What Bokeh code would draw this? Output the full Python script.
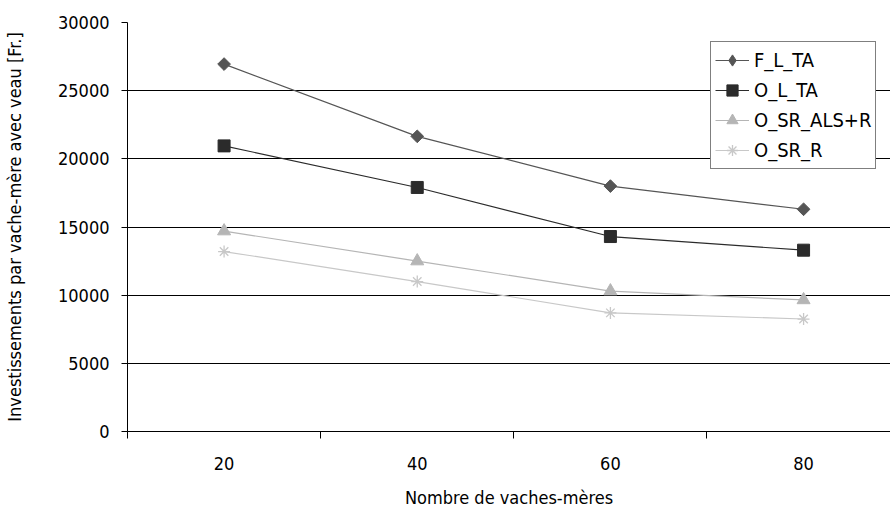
import math
from bokeh.plotting import figure
from bokeh.models import Range1d, FixedTicker, Legend, LegendItem
from bokeh.embed import file_html
from bokeh.resources import INLINE

categories = ["20", "40", "60", "80"]
series_names = ["F_L_TA", "O_L_TA", "O_SR_ALS+R", "O_SR_R"]
f_l_ta = [26950, 21650, 18000, 16300]
o_l_ta = [20950, 17900, 14300, 13300]
o_sr_als_r = [14700, 12500, 10300, 9650]
o_sr_r = [13200, 11000, 8700, 8250]
y_ticks = [0, 5000, 10000, 15000, 20000, 25000, 30000]

FONT = "DejaVu Sans Condensed"
xs = [i + 0.5 for i in range(len(categories))]

p = figure(width=890, height=511, output_backend="svg", toolbar_location=None,
           x_range=Range1d(0, 3.95), y_range=Range1d(0, 30000),
           min_border_left=125, min_border_right=0, min_border_top=22, min_border_bottom=80)
p.outline_line_color = None
p.background_fill_color = "white"
p.border_fill_color = "white"

# grid
p.xgrid.grid_line_color = None
p.ygrid.grid_line_color = "black"
p.ygrid.grid_line_width = 1
p.ygrid.ticker = FixedTicker(ticks=y_ticks)

# y axis
p.yaxis.ticker = FixedTicker(ticks=y_ticks)
p.yaxis.axis_label = "Investissements par vache-mère avec veau [Fr.]"
p.yaxis.major_tick_out = 6
p.yaxis.major_tick_in = 0
p.yaxis.minor_tick_out = 0
p.yaxis.minor_tick_in = 0
p.yaxis.axis_line_color = "black"
p.yaxis.major_label_text_font = FONT
p.yaxis.major_label_text_font_size = "18px"
p.yaxis.major_label_text_color = "black"
p.yaxis.axis_label_text_font = FONT
p.yaxis.axis_label_text_font_size = "18px"
p.yaxis.axis_label_text_font_style = "normal"
p.yaxis.axis_label_text_color = "black"
p.yaxis.major_label_standoff = 12
p.yaxis.axis_label_standoff = 30

# x axis: labels at category centres, ticks at category boundaries
p.xaxis.ticker = FixedTicker(ticks=xs, minor_ticks=[0, 1, 2, 3])
p.xaxis.major_label_overrides = {x: c for x, c in zip(xs, categories)}
p.xaxis.axis_label = "Nombre de vaches-mères"
p.xaxis.major_tick_out = 0
p.xaxis.major_tick_in = 0
p.xaxis.minor_tick_out = 7
p.xaxis.minor_tick_in = 0
p.xaxis.minor_tick_line_color = "black"
p.xaxis.axis_line_color = "black"
p.xaxis.major_label_text_font = FONT
p.xaxis.major_label_text_font_size = "18px"
p.xaxis.major_label_text_color = "black"
p.xaxis.major_label_standoff = 18
p.xaxis.axis_label_text_font = FONT
p.xaxis.axis_label_text_font_size = "18px"
p.xaxis.axis_label_text_font_style = "normal"
p.xaxis.axis_label_text_color = "black"
p.xaxis.axis_label_standoff = 14

styles = [
    (f_l_ta, "#555555", "square", 9, math.pi / 4, "diamond", 15),
    (o_l_ta, "#2b2b2b", "square", 12, 0, "square", 12),
    (o_sr_als_r, "#b5b5b5", "triangle", 13, 0, "triangle", 13),
    (o_sr_r, "#c8c8c8", "asterisk", 12, 0, "asterisk", 12),
]
items = []
for name, (vals, col, mk, sz, ang, lmk, lsz) in zip(series_names, styles):
    r1 = p.line(xs, vals, line_color=col, line_width=1.2)
    if mk == "asterisk":
        r2 = p.scatter(xs, vals, marker=mk, size=sz, line_color=col, line_width=1.3)
    else:
        r2 = p.scatter(xs, vals, marker=mk, size=sz, angle=ang,
                       fill_color=col, line_color=col)
    if lmk != mk:
        # hidden swatch renderer (same data) so the legend shows a diamond
        r2 = p.scatter(xs, vals, marker=lmk, size=lsz, fill_color=col,
                       line_color=col, visible=False)
    items.append(LegendItem(label=name, renderers=[r1, r2]))

legend = Legend(items=items, location=(583, 262))
legend.border_line_color = "black"
legend.border_line_width = 1
legend.background_fill_color = "white"
legend.background_fill_alpha = 1
legend.label_text_font = FONT
legend.label_text_font_size = "20px"
legend.label_text_color = "black"
legend.glyph_width = 34
legend.glyph_height = 28
legend.label_height = 20
legend.label_standoff = 5
legend.spacing = 2
legend.padding = 4
legend.margin = 0
p.add_layout(legend, "center")

open("out.html", "w").write(file_html(p, INLINE))
